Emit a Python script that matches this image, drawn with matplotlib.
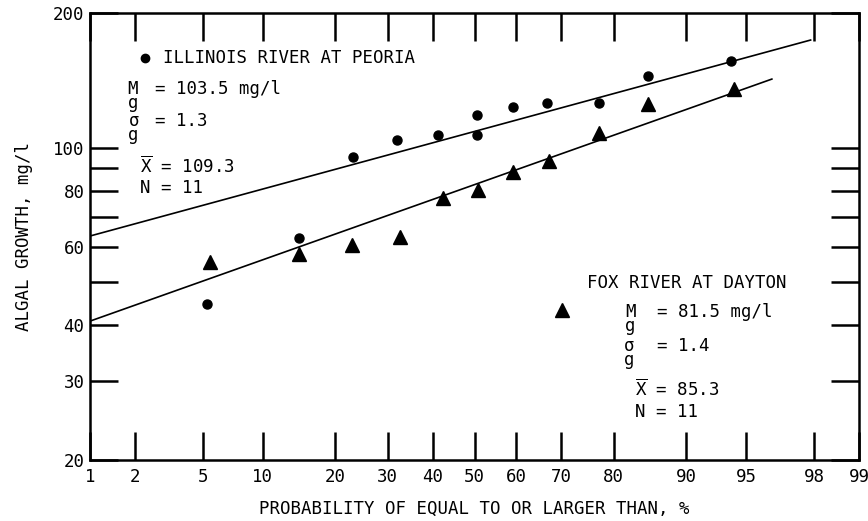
from statistics import NormalDist

import matplotlib

matplotlib.use("Agg")
import matplotlib.pyplot as plt
import numpy as np

# Illinois River at Peoria (circles)
illinois_prob = [5.3, 14.4, 23.1, 32.0, 41.3, 50.6, 50.6, 59.2, 67.0, 77.4, 85.3, 94.0]
illinois_growth = [44.7, 62.8, 95.3, 104, 106.7, 106.7, 118.3, 123.2, 125.8, 125.8, 144.6, 156.2]
illinois_fit_prob = [1.0, 97.9]
illinois_fit_growth = [63.4, 174.0]

# Fox River at Dayton (triangles)
fox_prob = [5.5, 14.4, 22.9, 32.6, 42.4, 50.8, 59.2, 67.4, 77.4, 85.3, 94.2]
fox_growth = [55.5, 57.8, 60.5, 63.1, 77.1, 80.4, 88.2, 93.3, 107.8, 125.2, 135.2]
fox_fit_prob = [1.0, 96.4]
fox_fit_growth = [40.9, 142.3]

x_ticks = [1, 2, 5, 10, 20, 30, 40, 50, 60, 70, 80, 90, 95, 98, 99]
y_ticks = [20, 30, 40, 50, 60, 70, 80, 90, 100, 200]
y_labels = ["20", "30", "40", "", "60", "", "80", "", "100", "200"]

MONO = ["DejaVu Sans Mono", "DejaVu Sans"]
plt.rcParams["font.family"] = MONO
plt.rcParams["mathtext.fontset"] = "custom"
plt.rcParams["mathtext.tt"] = "DejaVu Sans Mono"
plt.rcParams["mathtext.rm"] = "DejaVu Sans Mono"

_nd = NormalDist()
_ppf = np.vectorize(_nd.inv_cdf, otypes=[float])
_cdf = np.vectorize(_nd.cdf, otypes=[float])


def prob_forward(p):
    p = np.clip(np.asarray(p, dtype=float), 1e-4, 100 - 1e-4) / 100.0
    return _ppf(p)


def prob_inverse(z):
    return _cdf(np.asarray(z, dtype=float)) * 100.0


fig = plt.figure(figsize=(8.68, 5.21), dpi=100)
ax = fig.add_axes([90 / 868, 1 - 460 / 521, 769 / 868, 447 / 521])

ax.set_xscale("function", functions=(prob_forward, prob_inverse))
ax.set_yscale("log")
ax.set_xlim(1, 99)
ax.set_ylim(20, 200)

ax.plot(illinois_fit_prob, illinois_fit_growth, color="black", linewidth=1.2)
ax.plot(fox_fit_prob, fox_fit_growth, color="black", linewidth=1.2)
ax.plot(illinois_prob, illinois_growth, "o", color="black", markersize=6.5)
ax.plot(fox_prob, fox_growth, "^", color="black", markersize=10)

ax.set_xticks(x_ticks)
ax.set_xticklabels([str(t) for t in x_ticks])
ax.set_yticks(y_ticks)
ax.set_yticklabels(y_labels)
ax.minorticks_off()
ax.tick_params(axis="both", direction="in", length=20, width=1.8, labelsize=12.5,
               top=True, right=True, labeltop=False, labelright=False)
ax.tick_params(axis="x", pad=6)
ax.tick_params(axis="y", pad=4)
for spine in ax.spines.values():
    spine.set_linewidth(1.8)

ax.set_xlabel("PROBABILITY OF EQUAL TO OR LARGER THAN, %", fontsize=12.5, labelpad=10)
ax.set_ylabel("ALGAL GROWTH, mg/l", fontsize=12.5, labelpad=14)

# Illinois annotation
fs = 12.5
T = ax.transAxes
ax.plot([0.0715], [0.899], "o", color="black", markersize=6, transform=T, clip_on=False)
ax.text(0.0949, 0.899, "ILLINOIS RIVER AT PEORIA", transform=T, fontsize=fs, va="center")
ax.text(0.049, 0.851, "M\ng", transform=T, fontsize=fs, va="top", linespacing=0.75)
ax.text(0.0845, 0.830, "= 103.5 mg/l", transform=T, fontsize=fs, va="center")
ax.text(0.050, 0.779, "σ\ng", transform=T, fontsize=fs, va="top", linespacing=0.75)
ax.text(0.0845, 0.758, "= 1.3", transform=T, fontsize=fs, va="center")
ax.text(0.065, 0.658, r"$\overline{\mathtt{X}}$ = 109.3", transform=T, fontsize=fs, va="center")
ax.text(0.065, 0.608, "N = 11", transform=T, fontsize=fs, va="center")

# Fox annotation
ax.text(0.646, 0.396, "FOX RIVER AT DAYTON", transform=T, fontsize=fs, va="center")
ax.plot([0.6138], [0.3356], "^", color="black", markersize=10, transform=T, clip_on=False)
ax.text(0.6957, 0.352, "M\ng", transform=T, fontsize=fs, va="top", linespacing=0.75)
ax.text(0.737, 0.331, "= 81.5 mg/l", transform=T, fontsize=fs, va="center")
ax.text(0.694, 0.276, "σ\ng", transform=T, fontsize=fs, va="top", linespacing=0.75)
ax.text(0.737, 0.255, "= 1.4", transform=T, fontsize=fs, va="center")
ax.text(0.7087, 0.159, r"$\overline{\mathtt{X}}$ = 85.3", transform=T, fontsize=fs, va="center")
ax.text(0.7087, 0.107, "N = 11", transform=T, fontsize=fs, va="center")

fig.savefig("out.png", dpi=100)
